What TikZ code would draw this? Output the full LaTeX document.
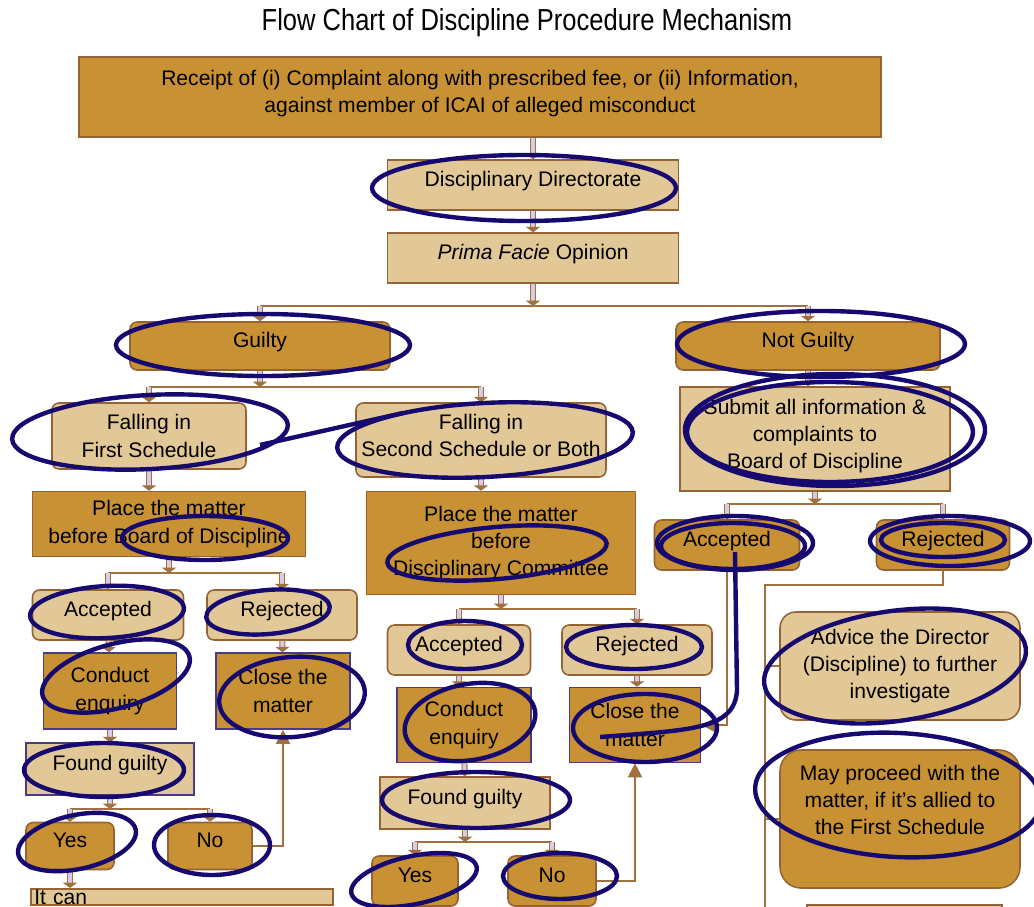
\documentclass[tikz,border=0pt]{standalone}
\usepackage{fontspec}
\setmainfont{Liberation Sans}
\newfontfamily\titlefont[FakeStretch=0.84]{Liberation Sans}
\usetikzlibrary{arrows.meta}

\definecolor{gold}{RGB}{199,145,52}
\definecolor{tan}{RGB}{226,200,150}
\definecolor{edge}{RGB}{150,100,52}
\definecolor{inkedge}{RGB}{75,60,130}
\definecolor{linkbrown}{RGB}{160,112,62}
\definecolor{pipe}{RGB}{214,204,228}
\definecolor{pen}{RGB}{22,10,112}

\begin{document}
\begin{tikzpicture}[
  x=0.02cm, y=-0.02cm,
  box/.style={draw=edge, line width=0.9pt, align=center, inner sep=2pt, font=\fontsize{12}{15.5}\selectfont, text=black},
  dark/.style={box, fill=gold},
  light/.style={box, fill=tan},
  soft/.style={rounded corners=4pt},
  inked/.style={draw=inkedge},
  oneline/.style={text depth=7pt},
  flow/.style={draw=linkbrown, line width=0.6pt, double=pipe, double distance=2.2pt, -{Triangle[length=3pt, width=8pt]}},
  bar/.style={draw=linkbrown, line width=1.1pt},
  back/.style={bar, -{Triangle[length=8pt, width=8pt]}},
  scribble/.style={draw=pen, line width=2.5pt}
]
\useasboundingbox (0,0) rectangle (1034,906);
\fill[white] (0,0) rectangle (1034,906);

% Nodes
\node[font=\titlefont\fontsize{17.3}{20}\selectfont, text=black] (title) at (527,23) {Flow Chart of Discipline Procedure Mechanism};
\node[dark, minimum width=16.04cm, minimum height=1.6cm] (receipt) at (480,97) {Receipt of (i) Complaint along with prescribed fee, or (ii) Information,\\against member of ICAI of alleged misconduct\\[-8.7pt]\mbox{}};
\node[light, oneline, minimum width=5.82cm, minimum height=1cm] (dd) at (533,185) {Disciplinary Directorate};
\node[light, oneline, minimum width=5.82cm, minimum height=1cm] (prima) at (533,258) {\textit{Prima Facie} Opinion};

\node[dark, soft, oneline, minimum width=5.2cm, minimum height=0.96cm] (guilty) at (260,346) {Guilty};
\node[dark, soft, oneline, minimum width=5.28cm, minimum height=0.96cm] (notguilty) at (808,346) {Not Guilty};

\node[light, soft, minimum width=3.88cm, minimum height=1.32cm] (first) at (149,436) {Falling in\\First Schedule};
\node[light, soft, minimum width=5cm, minimum height=1.48cm] (second) at (481,440) {Falling in\\Second Schedule or Both\\[-10pt]\mbox{}};
\node[light, minimum width=5.4cm, minimum height=2.08cm] (submit) at (815,439) {Submit all information \&\\complaints to\\Board of Discipline\\[-9.8pt]\mbox{}};

\node[dark, minimum width=5.46cm, minimum height=1.3cm] (placebod) at (169,524) {Place the matter\\before Board of Discipline};
\node[dark, minimum width=5.38cm, minimum height=2.06cm] (placedc) at (501,543) {Place the matter\\before\\Disciplinary Committee};
\node[dark, soft, oneline, minimum width=2.9cm, minimum height=1cm] (accr) at (727,545) {Accepted};
\node[dark, soft, oneline, minimum width=2.66cm, minimum height=1cm] (rejr) at (943,545) {Rejected};

\node[light, soft, oneline, minimum width=3.02cm, minimum height=1cm] (accl) at (108,615) {Accepted};
\node[light, soft, oneline, minimum width=3cm, minimum height=1cm] (rejl) at (282,615) {Rejected};
\node[light, soft, oneline, minimum width=2.86cm, minimum height=1cm] (accm) at (459,650) {Accepted};
\node[light, soft, oneline, minimum width=3cm, minimum height=1cm] (rejm) at (637,650) {Rejected};

\node[dark, inked, minimum width=2.66cm, minimum height=1.52cm] (enql) at (110,691) {Conduct\\enquiry};
\node[dark, inked, minimum width=2.68cm, minimum height=1.52cm] (closel) at (283,691) {Close the\\matter};
\node[dark, inked, minimum width=2.68cm, minimum height=1.5cm] (enqm) at (464,725) {Conduct\\enquiry};
\node[dark, inked, minimum width=2.62cm, minimum height=1.5cm] (closem) at (635,725) {Close the\\matter};

\node[light, soft, rounded corners=9pt, minimum width=4.8cm, minimum height=2.16cm] (advice) at (900,666) {Advice the Director\\(Discipline) to further\\investigate};
\node[dark, soft, rounded corners=12pt, minimum width=4.8cm, minimum height=2.76cm] (proceed) at (900,819) {May proceed with the\\matter, if it's allied to\\the First Schedule\\[6.5pt]\mbox{}};

\node[light, inked, oneline, minimum width=3.36cm, minimum height=1.04cm] (foundl) at (110,769) {Found guilty};
\node[light, oneline, minimum width=3.4cm, minimum height=1.04cm] (foundm) at (465,803) {Found guilty};

\node[dark, soft, oneline, minimum width=1.76cm, minimum height=0.94cm] (yesl) at (70,846) {Yes};
\node[dark, soft, oneline, minimum width=1.68cm, minimum height=0.94cm] (nol) at (210,846) {No};
\node[dark, soft, oneline, minimum width=1.72cm, minimum height=1cm] (yesm) at (415,881) {Yes};
\node[dark, soft, oneline, minimum width=1.76cm, minimum height=1cm] (nom) at (552,881) {No};

\node[light, anchor=north west, inner ysep=0.5pt, text width=5.9cm, align=left, minimum width=6cm] (itcan) at (30,888) {It can};
\node[light, anchor=north west, minimum width=3.9cm, minimum height=1cm] (nextbox) at (806,904) {};

% Lines
\coordinate (split0) at (533,306);
\coordinate (split1) at (260,387);
\coordinate (split2) at (169,573);
\coordinate (split3) at (110,809);
\coordinate (split4) at (501,609);
\coordinate (split5) at (465,842);
\coordinate (split6) at (815,504);
\coordinate (rtop) at (765,585);
\coordinate (rfoot) at (765,940);

\draw[flow] (receipt.south -| dd.north) -- (dd);
\draw[flow] (dd) -- (prima);
\draw[flow] (prima) -- (split0);
\draw[bar] (split0 -| guilty) -- (split0 -| notguilty);
\draw[flow] (split0 -| guilty) -- (guilty);
\draw[flow] (split0 -| notguilty) -- (notguilty);

\draw[flow] (guilty) -- (split1);
\draw[bar] (split1 -| first) -- (split1 -| second);
\draw[flow] (split1 -| first) -- (first);
\draw[flow] (split1 -| second) -- (second);
\draw[flow] (first) -- (first |- placebod.north);
\draw[flow] (second) -- (second |- placedc.north);

\draw[flow] (placebod) -- (split2);
\draw[bar] (split2 -| accl) -- (split2 -| rejl);
\draw[flow] (split2 -| accl) -- (accl);
\draw[flow] (split2 -| rejl) -- (rejl);
\draw[flow] (accl) -- (enql);
\draw[flow] (rejl) -- (closel);
\draw[flow] (enql) -- (foundl);
\draw[flow] (foundl) -- (split3);
\draw[bar] (split3 -| yesl) -- (split3 -| nol);
\draw[flow] (split3 -| yesl) -- (yesl);
\draw[flow] (split3 -| nol) -- (nol);
\draw[flow] (yesl) -- (yesl |- itcan.north);
\draw[back] (nol) -| (closel);

\draw[flow] (placedc) -- (split4);
\draw[bar] (split4 -| accm) -- (split4 -| rejm);
\draw[flow] (split4 -| accm) -- (accm);
\draw[flow] (split4 -| rejm) -- (rejm);
\draw[flow] (accm) -- (accm |- enqm.north);
\draw[flow] (rejm) -- (rejm |- closem.north);
\draw[flow] (enqm) -- (foundm);
\draw[flow] (foundm) -- (split5);
\draw[bar] (split5 -| yesm) -- (split5 -| nom);
\draw[flow] (split5 -| yesm) -- (yesm);
\draw[flow] (split5 -| nom) -- (nom);
\draw[back] (nom) -| (closem);

\draw[flow] (notguilty) -- (notguilty |- submit.north);
\draw[flow] (submit) -- (split6);
\draw[bar] (split6 -| accr) -- (split6 -| rejr);
\draw[flow] (split6 -| accr) -- (accr);
\draw[flow] (split6 -| rejr) -- (rejr);
\draw[back] (accr) |- (closem);
\draw[bar] (rejr) |- (rtop) -- (rfoot);
\draw[bar] (rtop |- advice) -- (advice);
\draw[bar] (rtop |- proceed) -- (proceed);

% Annotations
\draw[scribble] (524,188) ellipse [x radius=152, y radius=33];
\draw[scribble] (263,345) ellipse [x radius=147, y radius=31];
\draw[scribble] (821,344) ellipse [x radius=144, y radius=33];
\draw[scribble] (830,432) ellipse [x radius=143, y radius=50];
\draw[scribble] (835,430) ellipse [x radius=150, y radius=56];
\draw[scribble] (150,432) ellipse [x radius=138, y radius=37, rotate=3];
\draw[scribble] (485,440) ellipse [x radius=148, y radius=37, rotate=3];
\draw[scribble] (260,445) -- (403,413);
\draw[scribble] (205,538) ellipse [x radius=83, y radius=22];
\draw[scribble] (497,553) ellipse [x radius=110, y radius=26, rotate=5];
\draw[scribble] (107,612) ellipse [x radius=77, y radius=26, rotate=3];
\draw[scribble] (268,612) ellipse [x radius=62, y radius=22, rotate=5];
\draw[scribble] (116,676) ellipse [x radius=76, y radius=32, rotate=15];
\draw[scribble] (292,697) ellipse [x radius=73, y radius=40, rotate=5];
\draw[scribble] (104,770) ellipse [x radius=80, y radius=27];
\draw[scribble] (77,842) ellipse [x radius=60, y radius=27, rotate=12];
\draw[scribble] (212,845) ellipse [x radius=58, y radius=30];
\draw[scribble] (465,645) ellipse [x radius=57, y radius=24];
\draw[scribble] (634,647) ellipse [x radius=68, y radius=22];
\draw[scribble] (470,722) ellipse [x radius=66, y radius=38, rotate=10];
\draw[scribble] (645,728) ellipse [x radius=72, y radius=34];
\draw[scribble] (476,800) ellipse [x radius=94, y radius=28];
\draw[scribble] (414,880) ellipse [x radius=64, y radius=24, rotate=12];
\draw[scribble] (560,876) ellipse [x radius=57, y radius=23];
\draw[scribble] (735,543) ellipse [x radius=78, y radius=27];
\draw[scribble] (733,546) ellipse [x radius=72, y radius=23];
\draw[scribble] (950,541) ellipse [x radius=80, y radius=25];
\draw[scribble] (943,540) ellipse [x radius=62, y radius=17];
\draw[scribble] (895,666) ellipse [x radius=132, y radius=55, rotate=8];
\draw[scribble] (898,795) ellipse [x radius=143, y radius=62, rotate=-3];
\draw[scribble] (600,737) .. controls (690,730) and (735,730) .. (737,690) -- (735,552);

\end{tikzpicture}
\end{document}
